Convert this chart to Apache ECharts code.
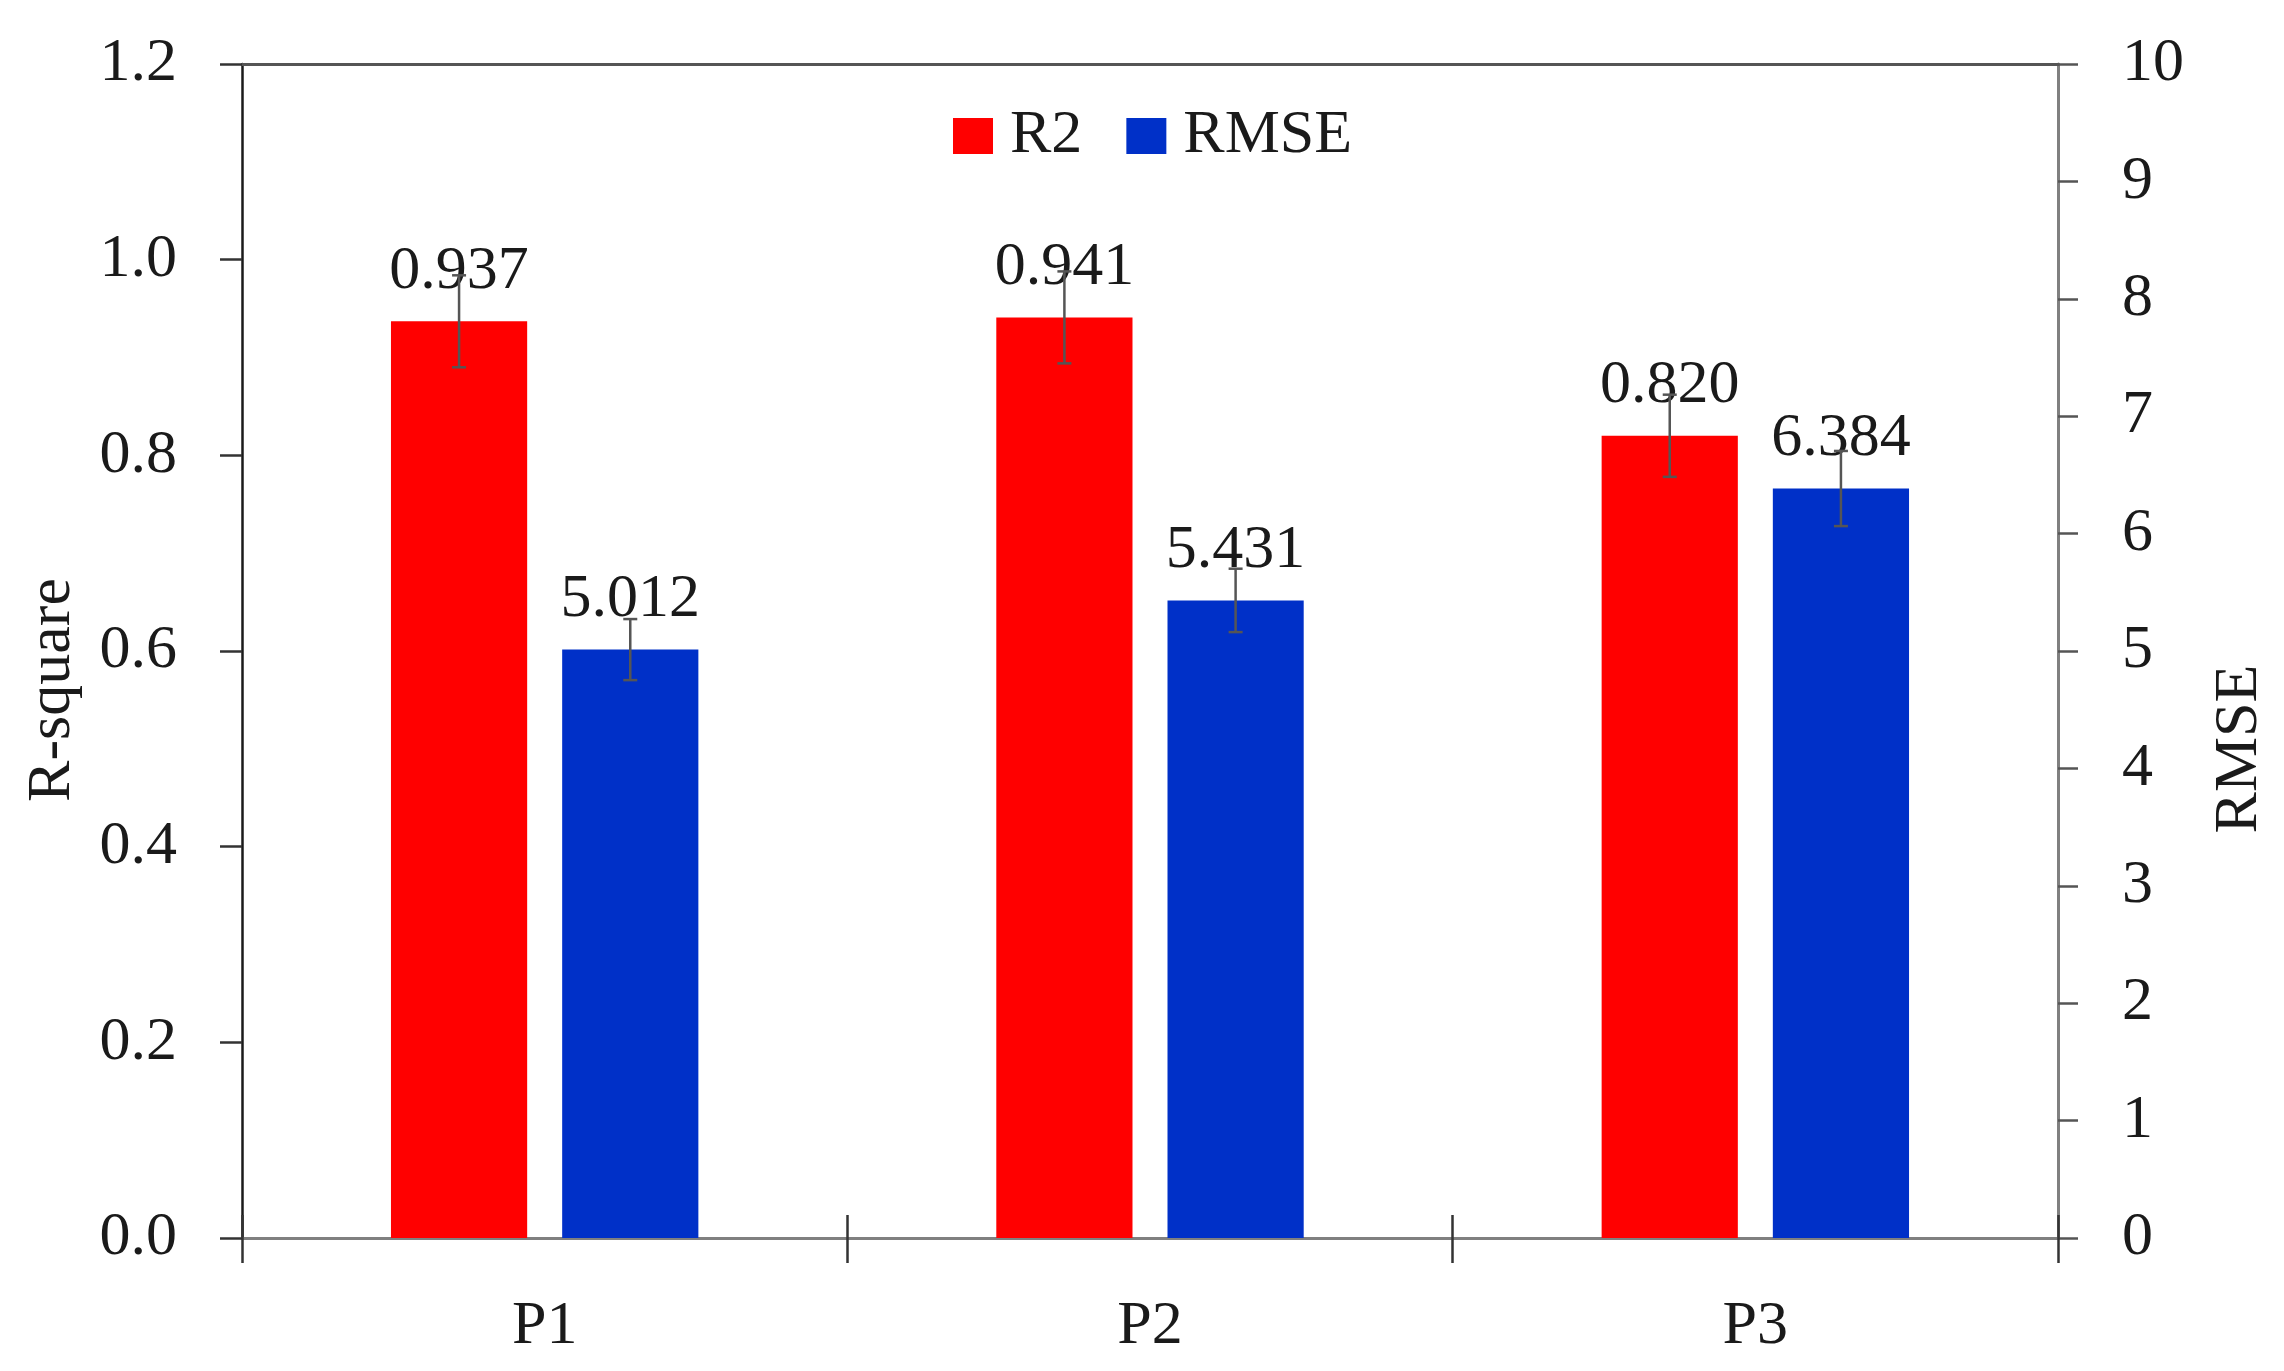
<!DOCTYPE html>
<html>
<head>
<meta charset="utf-8">
<script src="https://cdn.jsdelivr.net/npm/echarts@6/dist/echarts.min.js"></script>
<style>
html,body{margin:0;padding:0;background:#fff;}
#chart{width:2284px;height:1371px;}
</style>
</head>
<body>
<div id="chart"></div>
<script>
const categories = ['P1', 'P2', 'P3'];
const r2Values = [0.937, 0.941, 0.820];
const rmseValues = [5.012, 5.431, 6.384];
const r2Errors = [0.047, 0.047, 0.042];
const rmseErrors = [0.26, 0.27, 0.32];
const seriesNames = ['R2', 'RMSE'];
const leftAxisName = 'R-square';
const rightAxisName = 'RMSE';

const FONT = 'Liberation Serif';
const FS = 62;
const TXT = '#1a1a1a';
const BAR_W = 0.225, BAR_GAP = 0.257;
const OFF = BAR_W * (1 + BAR_GAP) / 2;

function errorRender(sign) {
  return function (params, api) {
    const idx = api.value(0), val = api.value(1), err = api.value(2);
    const band = api.size([1, 0])[0];
    const c = api.coord([idx, val]);
    const x = c[0] + sign * band * OFF;
    const yt = api.coord([idx, val + err])[1];
    const yb = api.coord([idx, val - err])[1];
    const cap = 7;
    const st = { stroke: '#555', lineWidth: 2.5 };
    return {
      type: 'group',
      children: [
        { type: 'line', shape: { x1: x, y1: yt, x2: x, y2: yb }, style: st },
        { type: 'line', shape: { x1: x - cap, y1: yt, x2: x + cap, y2: yt }, style: st },
        { type: 'line', shape: { x1: x - cap, y1: yb, x2: x + cap, y2: yb }, style: st }
      ]
    };
  };
}

const chart = echarts.init(document.getElementById('chart'));
chart.setOption({
  animation: false,
  backgroundColor: '#fff',
  textStyle: { fontFamily: FONT, color: TXT },
  legend: {
    data: seriesNames,
    left: 948,
    top: 100,
    icon: 'rect',
    itemWidth: 40,
    itemHeight: 36,
    itemGap: 44,
    textStyle: { fontFamily: FONT, fontSize: FS, color: TXT, padding: [0, 0, 0, 12] }
  },
  grid: { left: 242, right: 226, top: 64, bottom: 133, containLabel: false },
  xAxis: [
    {
      type: 'category', data: categories, position: 'bottom',
      axisLine: { show: true, lineStyle: { color: '#808080', width: 3 } },
      axisTick: { show: true, length: 25, lineStyle: { color: '#333', width: 2.5 } },
      axisLabel: { fontFamily: FONT, fontSize: FS, color: TXT, margin: 58 },
      splitLine: { show: false }
    },
    {
      type: 'category', data: categories, position: 'bottom',
      axisLine: { show: false },
      axisTick: { show: true, inside: true, length: 23, lineStyle: { color: '#333', width: 2.5 } },
      axisLabel: { show: false },
      splitLine: { show: false }
    },
    {
      type: 'category', data: categories, position: 'top',
      axisLine: { show: true, lineStyle: { color: '#555', width: 3 } },
      axisTick: { show: false },
      axisLabel: { show: false },
      splitLine: { show: false }
    }
  ],
  yAxis: [
    {
      type: 'value', min: 0, max: 1.2, interval: 0.2, position: 'left',
      name: leftAxisName, nameLocation: 'middle', nameRotate: 90, nameGap: 158,
      nameTextStyle: { fontFamily: FONT, fontSize: FS, color: TXT, padding: [0, 78, 0, 0] },
      axisLine: { show: true, lineStyle: { color: '#1a1a1a', width: 2.5 } },
      axisTick: { show: true, length: 22, lineStyle: { color: '#333', width: 2.5 } },
      axisLabel: { fontFamily: FONT, fontSize: FS, color: TXT, margin: 65, formatter: v => v.toFixed(1) },
      splitLine: { show: false }
    },
    {
      type: 'value', min: 0, max: 10, interval: 1, position: 'right',
      name: rightAxisName, nameLocation: 'middle', nameRotate: 90, nameGap: 151,
      nameTextStyle: { fontFamily: FONT, fontSize: FS, color: TXT, padding: [0, 196, 0, 0] },
      axisLine: { show: true, lineStyle: { color: '#808080', width: 3 } },
      axisTick: { show: true, length: 20, lineStyle: { color: '#555', width: 2.5 } },
      axisLabel: { fontFamily: FONT, fontSize: FS, color: TXT, margin: 64 },
      splitLine: { show: false }
    }
  ],
  series: [
    {
      name: seriesNames[0], type: 'bar', xAxisIndex: 0, yAxisIndex: 0,
      data: r2Values, barWidth: (BAR_W * 100) + '%', barGap: (BAR_GAP * 100) + '%',
      itemStyle: { color: '#FF0000' },
      label: { show: true, position: 'top', distance: 19, fontFamily: FONT, fontSize: FS, color: TXT,
        formatter: p => p.value.toFixed(3) }
    },
    {
      name: seriesNames[1], type: 'bar', xAxisIndex: 0, yAxisIndex: 1,
      data: rmseValues, barWidth: (BAR_W * 100) + '%',
      itemStyle: { color: '#0030C8' },
      label: { show: true, position: 'top', distance: 19, fontFamily: FONT, fontSize: FS, color: TXT,
        formatter: p => p.value.toFixed(3) }
    },
    {
      name: 'R2 error', type: 'custom', xAxisIndex: 0, yAxisIndex: 0, z: 5,
      renderItem: errorRender(-1),
      encode: { x: 0, y: 1 },
      data: categories.map((c, i) => [i, r2Values[i], r2Errors[i]])
    },
    {
      name: 'RMSE error', type: 'custom', xAxisIndex: 0, yAxisIndex: 1, z: 5,
      renderItem: errorRender(1),
      encode: { x: 0, y: 1 },
      data: categories.map((c, i) => [i, rmseValues[i], rmseErrors[i]])
    }
  ]
});
</script>
</body>
</html>
